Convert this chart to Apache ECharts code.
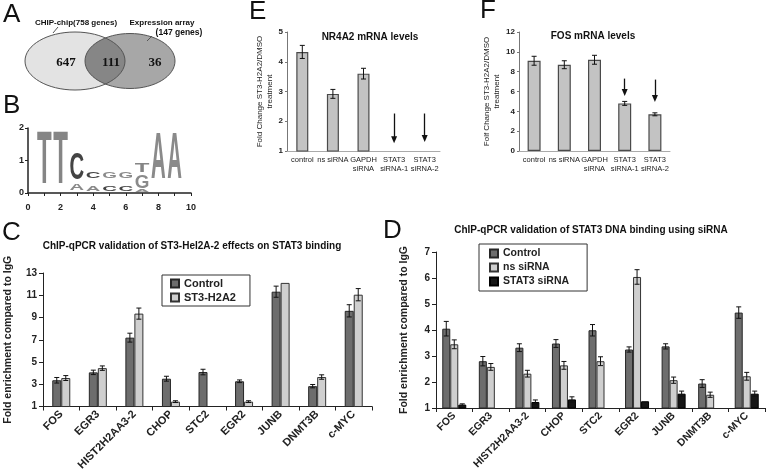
<!DOCTYPE html>
<html>
<head>
<meta charset="utf-8">
<script src="https://cdn.jsdelivr.net/npm/echarts@6/dist/echarts.min.js"></script>
<style>
  html, body { margin: 0; padding: 0; background: #fff; }
  #chart-container { width: 768px; height: 473px; }
</style>
</head>
<body>
<div id="chart-container"></div>
<script>
var dom = document.getElementById("chart-container");
var myChart = echarts.init(dom, null, { renderer: "canvas" });

// ---- data ----
// A: venn
const vennLabels = ["CHIP-chip(758 genes)", "Expression array", "(147 genes)"];
const vennCounts = [647, 111, 36];

// B: sequence logo  [position, letter, bottom, top]
const logoLetters = [
  [1, "T", 0.13, 1.78],
  [2, "T", 0.13, 1.78],
  [3, "A", 0.08, 0.29],
  [3, "C", 0.34, 1.16],
  [4, "A", 0.05, 0.2],
  [4, "C", 0.44, 0.65],
  [5, "C", 0.05, 0.2],
  [5, "G", 0.44, 0.65],
  [6, "C", 0.05, 0.2],
  [6, "G", 0.44, 0.65],
  [7, "A", 0.03, 0.1],
  [7, "G", 0.12, 0.54],
  [7, "T", 0.6, 0.9],
  [8, "A", 0.29, 1.72],
  [9, "A", 0.29, 1.72]
];

// E / F: mRNA levels
const mrnaCats = ["control", "ns siRNA", "GAPDH\nsiRNA", "STAT3\nsiRNA-1", "STAT3\nsiRNA-2"];
const nr4a2Values = [4.33, 2.92, 3.6, 1.02, 1.0];
const nr4a2Err = [0.22, 0.15, 0.18, null, null];
const nr4a2Arrows = [null, null, null, [2.26, 1.38], [2.26, 1.42]];
const fosValues = [9.1, 8.7, 9.2, 4.8, 3.7];
const fosErr = [0.45, 0.4, 0.45, 0.2, 0.15];
const fosArrows = [null, null, null, [7.3, 5.9], [7.2, 5.3]];

// C / D: ChIP-qPCR
const genes = ["FOS", "EGR3", "HIST2H2AA3-2", "CHOP", "STC2", "EGR2", "JUNB", "DNMT3B", "c-MYC"];
const cTicks = [1, 3, 5, 7, 9, 11, 13];
const cControl = [3.36, 4.07, 7.19, 3.5, 4.1, 3.27, 11.32, 2.83, 9.6];
const cControlErr = [0.25, 0.2, 0.4, 0.22, 0.25, 0.12, 0.5, 0.15, 0.55];
const cST3 = [3.56, 4.45, 9.35, 1.44, null, 1.44, 12.11, 3.65, 11.05];
const cST3Err = [0.22, 0.2, 0.5, 0.08, null, 0.08, null, 0.2, 0.55];

const dControl = [4.05, 2.8, 3.32, 3.48, 3.99, 3.25, 3.37, 1.94, 4.67];
const dControlErr = [0.28, 0.18, 0.15, 0.15, 0.22, 0.1, 0.1, 0.15, 0.22];
const dNs = [3.45, 2.58, 2.32, 2.64, 2.8, 6.04, 2.07, 1.51, 2.22];
const dNsErr = [0.17, 0.13, 0.13, 0.15, 0.17, 0.28, 0.12, 0.1, 0.15];
const dStat3 = [1.13, null, 1.23, 1.33, null, 1.26, 1.55, null, 1.55];
const dStat3Err = [0.03, null, 0.08, 0.1, null, null, 0.1, null, 0.1];

// ---- helpers ----
const FONT = "Liberation Sans, Arial, sans-serif";
const measureCtx = document.createElement("canvas").getContext("2d");

function errBars(values, errs, axisIndex, offset) {
  const data = [];
  values.forEach((v, i) => {
    if (v != null && errs[i] != null) data.push([i, v, errs[i]]);
  });
  return {
    type: "custom",
    xAxisIndex: axisIndex,
    yAxisIndex: axisIndex,
    z: 10,
    silent: true,
    data: data,
    renderItem: (params, api) => {
      const i = api.value(0), v = api.value(1), e = api.value(2);
      const hi = api.coord([i, v + e]);
      const lo = api.coord([i, v - e]);
      const x = hi[0] + offset, half = 2.5;
      const style = { stroke: "#111", lineWidth: 1 };
      return {
        type: "group",
        children: [
          { type: "line", shape: { x1: x, y1: hi[1], x2: x, y2: lo[1] }, style: style },
          { type: "line", shape: { x1: x - half, y1: hi[1], x2: x + half, y2: hi[1] }, style: style },
          { type: "line", shape: { x1: x - half, y1: lo[1], x2: x + half, y2: lo[1] }, style: style }
        ]
      };
    }
  };
}

function arrowLines(arrows) {
  return arrows
    .map((a, i) => a && [
      { coord: [i, a[0]], symbol: "none" },
      { coord: [i, a[1]], symbol: "triangle", symbolSize: [6, 7] }
    ])
    .filter(Boolean);
}

const logoColors = { T: "#858585", A: "#8a8a8a", C: "#444", G: "#8a8a8a" };

// venn lens (intersection of the two ellipses)
const e1 = { cx: 75, cy: 61, rx: 50, ry: 29 };
const e2 = { cx: 130, cy: 61, rx: 45, ry: 27.5 };
function rayDist(e, px, py, c, s) {
  const a = (c * c) / (e.rx * e.rx) + (s * s) / (e.ry * e.ry);
  const b = 2 * ((px - e.cx) * c / (e.rx * e.rx) + (py - e.cy) * s / (e.ry * e.ry));
  const cc = ((px - e.cx) ** 2) / (e.rx * e.rx) + ((py - e.cy) ** 2) / (e.ry * e.ry) - 1;
  return (-b + Math.sqrt(b * b - 4 * a * cc)) / (2 * a);
}
const lens = [];
for (let k = 0; k < 120; k++) {
  const t = (k / 120) * Math.PI * 2, c = Math.cos(t), s = Math.sin(t);
  const d = Math.min(rayDist(e1, 105, 61, c, s), rayDist(e2, 105, 61, c, s));
  lens.push([105 + d * c, 61 + d * s]);
}

function txt(x, y, text, font, align) {
  return {
    type: "text", x: x, y: y, silent: true,
    style: {
      text: text, font: font, fill: "#111",
      textAlign: align || "center", align: align || "center",
      textVerticalAlign: "middle", verticalAlign: "middle"
    }
  };
}

const axisLineDark = { show: true, lineStyle: { color: "#222", width: 1 } };
const mrnaLabel = { interval: 0, fontSize: 7.5, color: "#222", margin: 4, lineHeight: 9, fontFamily: FONT };

option = {
  animation: false,
  backgroundColor: "#fff",
  grid: [
    { left: 28, top: 128, width: 163, height: 65 },   // B
    { left: 287, top: 32, width: 153, height: 119 },  // E
    { left: 519, top: 32, width: 151, height: 119 },  // F
    { left: 43, top: 273, width: 329, height: 136 },  // C
    { left: 436, top: 252, width: 329, height: 156 }  // D
  ],
  legend: [
    {
      data: ["Control", "ST3-H2A2"],
      left: 162, top: 275, orient: "vertical",
      icon: "rect", itemWidth: 8, itemHeight: 8, itemGap: 3,
      padding: [3, 14, 3, 8],
      borderColor: "#333", borderWidth: 1,
      textStyle: { fontSize: 11, fontWeight: "bold", color: "#222", fontFamily: FONT }
    },
    {
      data: ["Control", "ns siRNA", "STAT3 siRNA"],
      left: 479, top: 244, orient: "vertical",
      icon: "rect", itemWidth: 8, itemHeight: 8, itemGap: 3,
      padding: [4, 18, 4, 10],
      borderColor: "#333", borderWidth: 1,
      textStyle: { fontSize: 10.5, fontWeight: "bold", color: "#222", fontFamily: FONT }
    }
  ],
  xAxis: [
    {
      gridIndex: 0, type: "value", min: 0, max: 10, interval: 2, offset: 6,
      axisLine: { show: true, lineStyle: { color: "#222", width: 1.5 } },
      axisTick: { show: true, length: 3, lineStyle: { color: "#222" } },
      minorTick: { show: true, splitNumber: 2, length: 3, lineStyle: { color: "#222" } },
      splitLine: { show: false },
      axisLabel: { fontSize: 9, fontWeight: "bold", color: "#222", margin: 4, fontFamily: FONT }
    },
    {
      gridIndex: 1, type: "category", data: mrnaCats,
      axisLine: { show: true, lineStyle: { color: "#aaa" } },
      axisTick: { show: false },
      axisLabel: mrnaLabel
    },
    {
      gridIndex: 2, type: "category", data: mrnaCats,
      axisLine: { show: true, lineStyle: { color: "#aaa" } },
      axisTick: { show: false },
      axisLabel: mrnaLabel
    },
    {
      gridIndex: 3, type: "category", data: genes,
      axisLine: axisLineDark,
      axisTick: { show: true, length: 4, lineStyle: { color: "#222" } },
      axisLabel: { interval: 0, rotate: 45, fontSize: 11, fontWeight: "bold", color: "#222", margin: 6, fontFamily: FONT }
    },
    {
      gridIndex: 4, type: "category", data: genes,
      axisLine: axisLineDark,
      axisTick: { show: true, length: 4, lineStyle: { color: "#222" } },
      axisLabel: { interval: 0, rotate: 45, fontSize: 10.5, fontWeight: "bold", color: "#222", margin: 6, fontFamily: FONT }
    }
  ],
  yAxis: [
    {
      gridIndex: 0, type: "value", min: 0, max: 2, interval: 1,
      axisLine: { show: true, lineStyle: { color: "#222", width: 1.5 } },
      axisTick: { show: true, length: 3, lineStyle: { color: "#222" } },
      splitLine: { show: false },
      axisLabel: { fontSize: 9, fontWeight: "bold", color: "#222", margin: 4, fontFamily: FONT }
    },
    {
      gridIndex: 1, type: "value", min: 1, max: 5, interval: 1,
      axisLine: { show: true, lineStyle: { color: "#777" } },
      axisTick: { show: true, length: 2, lineStyle: { color: "#777" } },
      splitLine: { show: false },
      axisLabel: { fontSize: 8, fontWeight: "bold", color: "#222", margin: 4, fontFamily: FONT },
      name: "Fold Change ST3-H2A2/DMSO\ntreatment", nameLocation: "middle", nameGap: 11,
      nameTextStyle: { fontSize: 8, color: "#222", lineHeight: 10, fontFamily: FONT }
    },
    {
      gridIndex: 2, type: "value", min: 0, max: 12, interval: 2,
      axisLine: { show: true, lineStyle: { color: "#777" } },
      axisTick: { show: true, length: 2, lineStyle: { color: "#777" } },
      splitLine: { show: false },
      axisLabel: { fontSize: 8, fontWeight: "bold", color: "#222", margin: 4, fontFamily: FONT },
      name: "Folf Change ST3-H2A2/DMSO\ntreatment", nameLocation: "middle", nameGap: 12,
      nameTextStyle: { fontSize: 8, color: "#222", lineHeight: 10, fontFamily: FONT }
    },
    {
      gridIndex: 3, type: "value", min: 1, max: 13,
      axisLine: axisLineDark,
      axisTick: { show: true, length: 4, customValues: cTicks, lineStyle: { color: "#222" } },
      splitLine: { show: false },
      axisLabel: { customValues: cTicks, fontSize: 10, fontWeight: "bold", color: "#222", margin: 6, fontFamily: FONT },
      name: "Fold enrichment compared to IgG", nameLocation: "middle", nameGap: 29,
      nameTextStyle: { fontSize: 10.5, fontWeight: "bold", color: "#222", fontFamily: FONT }
    },
    {
      gridIndex: 4, type: "value", min: 1, max: 7, interval: 1,
      axisLine: axisLineDark,
      axisTick: { show: true, length: 4, lineStyle: { color: "#222" } },
      splitLine: { show: false },
      axisLabel: { fontSize: 10, fontWeight: "bold", color: "#222", margin: 6, fontFamily: FONT },
      name: "Fold enrichment compared to IgG", nameLocation: "middle", nameGap: 26,
      nameTextStyle: { fontSize: 10.5, fontWeight: "bold", color: "#222", fontFamily: FONT }
    }
  ],
  graphic: [
    // panel letters
    txt(3, 15, "A", "26px " + FONT, "left"),
    txt(3, 106, "B", "26px " + FONT, "left"),
    txt(2, 233, "C", "26px " + FONT, "left"),
    txt(383, 231, "D", "26px " + FONT, "left"),
    txt(249, 12, "E", "26px " + FONT, "left"),
    txt(480, 11, "F", "26px " + FONT, "left"),
    // titles
    txt(192, 246, "ChIP-qPCR validation of ST3-Hel2A-2 effects on STAT3 binding", "bold 10px " + FONT),
    txt(591, 230, "ChIP-qPCR validation of STAT3 DNA binding using siRNA", "bold 10px " + FONT),
    txt(370, 37, "NR4A2 mRNA levels", "bold 10px " + FONT),
    txt(593, 36, "FOS mRNA levels", "bold 10px " + FONT),
    // venn
    { type: "ellipse", silent: true, shape: e1, style: { fill: "#e3e3e3" } },
    { type: "ellipse", silent: true, shape: e2, style: { fill: "#a7a7a7" } },
    { type: "polygon", silent: true, shape: { points: lens }, style: { fill: "#868686" } },
    { type: "ellipse", silent: true, shape: e1, style: { fill: "none", stroke: "#555", lineWidth: 1 } },
    { type: "ellipse", silent: true, shape: e2, style: { fill: "none", stroke: "#555", lineWidth: 1 } },
    { type: "line", silent: true, shape: { x1: 53, y1: 33, x2: 58, y2: 27 }, style: { stroke: "#555", lineWidth: 1 } },
    { type: "line", silent: true, shape: { x1: 147, y1: 41, x2: 152, y2: 36 }, style: { stroke: "#555", lineWidth: 1 } },
    txt(76, 23, vennLabels[0], "bold 8px " + FONT),
    txt(162, 23, vennLabels[1], "bold 8px " + FONT),
    txt(179, 33, vennLabels[2], "bold 8.5px " + FONT),
    txt(66, 63, String(vennCounts[0]), "bold 13px Liberation Serif, Times New Roman, serif"),
    txt(111, 63, String(vennCounts[1]), "bold 13px Liberation Serif, Times New Roman, serif"),
    txt(155, 63, String(vennCounts[2]), "bold 13px Liberation Serif, Times New Roman, serif")
  ],
  series: [
    // B: logo
    {
      type: "custom", xAxisIndex: 0, yAxisIndex: 0, silent: true,
      data: logoLetters.map((d) => [d[0], d[2], d[3]]),
      renderItem: (params, api) => {
        const letter = logoLetters[params.dataIndex][1];
        const p = api.value(0), lo = api.value(1), hi = api.value(2);
        const a = api.coord([p - 0.45, lo]);
        const b = api.coord([p + 0.45, hi]);
        const fs = 40, font = "bold 40px " + FONT;
        measureCtx.font = font;
        const gw = measureCtx.measureText(letter).width;
        return {
          type: "text",
          x: (a[0] + b[0]) / 2, y: (a[1] + b[1]) / 2,
          scaleX: (b[0] - a[0]) / gw, scaleY: (a[1] - b[1]) / (0.72 * fs),
          style: {
            text: letter, font: font, fill: logoColors[letter],
            textAlign: "center", align: "center",
            textVerticalAlign: "middle", verticalAlign: "middle"
          }
        };
      }
    },
    // E
    {
      name: "NR4A2", type: "bar", xAxisIndex: 1, yAxisIndex: 1, barWidth: 12,
      data: nr4a2Values,
      itemStyle: { color: "#c3c3c3", borderColor: "#4a4a4a", borderWidth: 1.2 },
      markLine: {
        silent: true,
        lineStyle: { color: "#111", width: 1.3, type: "solid" },
        label: { show: false },
        data: arrowLines(nr4a2Arrows)
      }
    },
    errBars(nr4a2Values, nr4a2Err, 1, 0),
    // F
    {
      name: "FOS", type: "bar", xAxisIndex: 2, yAxisIndex: 2, barWidth: 13,
      data: fosValues,
      itemStyle: { color: "#c3c3c3", borderColor: "#4a4a4a", borderWidth: 1.2 },
      markLine: {
        silent: true,
        lineStyle: { color: "#111", width: 1.3, type: "solid" },
        label: { show: false },
        data: arrowLines(fosArrows)
      }
    },
    errBars(fosValues, fosErr, 2, 0),
    // C
    {
      name: "Control", type: "bar", xAxisIndex: 3, yAxisIndex: 3, barWidth: 9, barGap: "0%",
      data: cControl,
      itemStyle: { color: "#6d6d6d", borderColor: "#262626", borderWidth: 1 }
    },
    {
      name: "ST3-H2A2", type: "bar", xAxisIndex: 3, yAxisIndex: 3, barWidth: 9, barGap: "0%",
      data: cST3.map((v) => (v == null ? "-" : v)),
      itemStyle: { color: "#cfcfcf", borderColor: "#333", borderWidth: 1 }
    },
    errBars(cControl, cControlErr, 3, -4.5),
    errBars(cST3, cST3Err, 3, 4.5),
    // D
    {
      name: "Control", type: "bar", xAxisIndex: 4, yAxisIndex: 4, barWidth: 8, barGap: "0%",
      data: dControl,
      itemStyle: { color: "#6d6d6d", borderColor: "#262626", borderWidth: 1 }
    },
    {
      name: "ns siRNA", type: "bar", xAxisIndex: 4, yAxisIndex: 4, barWidth: 8, barGap: "0%",
      data: dNs,
      itemStyle: { color: "#cfcfcf", borderColor: "#333", borderWidth: 1 }
    },
    {
      name: "STAT3 siRNA", type: "bar", xAxisIndex: 4, yAxisIndex: 4, barWidth: 8, barGap: "0%",
      data: dStat3.map((v) => (v == null ? "-" : v)),
      itemStyle: { color: "#161616", borderColor: "#000", borderWidth: 1 }
    },
    errBars(dControl, dControlErr, 4, -8),
    errBars(dNs, dNsErr, 4, 0),
    errBars(dStat3, dStat3Err, 4, 8)
  ]
};

myChart.setOption(option);
window.addEventListener("resize", myChart.resize);
</script>
</body>
</html>
